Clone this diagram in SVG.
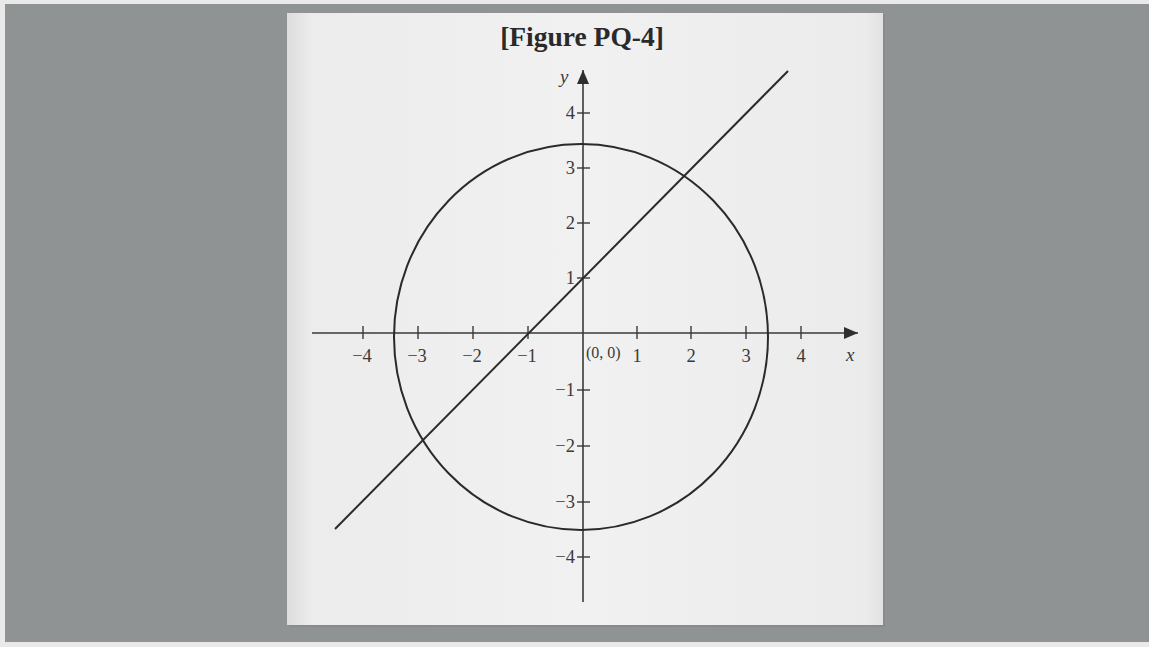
<svg xmlns="http://www.w3.org/2000/svg" width="1149" height="647" viewBox="0 0 1149 647">
  <defs>
    <linearGradient id="paperGrad" x1="0" y1="0" x2="1" y2="0">
      <stop offset="0" stop-color="#dcdcdc"/>
      <stop offset="0.04" stop-color="#ececec"/>
      <stop offset="0.5" stop-color="#f1f1f1"/>
      <stop offset="0.97" stop-color="#ebebeb"/>
      <stop offset="1" stop-color="#e2e2e2"/>
    </linearGradient>
    <marker id="arrowBig" viewBox="0 0 14 12" refX="14" refY="6" markerWidth="14" markerHeight="12" markerUnits="userSpaceOnUse" orient="auto">
      <path d="M0,0 L14,6 L0,12 Z" fill="#2e2e2e"/>
    </marker>
  </defs>
  <style>
    .ax { stroke: #3a3a3a; stroke-width: 1.6; fill: none; }
    .tick { stroke: #3a3a3a; stroke-width: 1.4; }
    .curve { stroke: #2a2a2a; stroke-width: 2; fill: none; }
    .lbl { font-family: "Liberation Serif", "Times New Roman", serif; font-size: 18.5px; fill: #3a3a3a; }
    .small { font-family: "Liberation Serif", "Times New Roman", serif; font-size: 16px; fill: #3a3a3a; }
    .var { font-family: "Liberation Serif", "Times New Roman", serif; font-size: 19px; font-style: italic; fill: #3a3a3a; }
    .title { font-family: "Liberation Serif", "Times New Roman", serif; font-size: 27.5px; font-weight: bold; fill: #2a2a2a; }
  </style>

  <!-- background -->
  <rect x="0" y="0" width="1149" height="647" fill="#e9e9e9"/>
  <rect x="5" y="4" width="1144" height="638" fill="#909394"/>

  <!-- paper -->
  <g id="paper">
    <rect x="289" y="15" width="596" height="612" fill="#7f8283" opacity="0.5"/>
    <rect x="287" y="13" width="596" height="612" fill="url(#paperGrad)"/>
  </g>

  <g id="title">
    <text class="title" x="582" y="46" text-anchor="middle">[Figure PQ-4]</text>
  </g>

  <!-- axes -->
  <g id="axes">
    <line class="ax" x1="312" y1="333" x2="858" y2="333" marker-end="url(#arrowBig)"/>
    <line class="ax" x1="583" y1="602" x2="583" y2="70" marker-end="url(#arrowBig)"/>
    <text class="var" x="846" y="361">x</text>
    <text class="var" x="560" y="83">y</text>
  </g>

  <g id="x-ticks">
    <line class="tick" x1="363" y1="326" x2="363" y2="339"/>
    <line class="tick" x1="418" y1="326" x2="418" y2="339"/>
    <line class="tick" x1="473" y1="326" x2="473" y2="339"/>
    <line class="tick" x1="528" y1="326" x2="528" y2="339"/>
    <line class="tick" x1="637" y1="326" x2="637" y2="339"/>
    <line class="tick" x1="691" y1="326" x2="691" y2="339"/>
    <line class="tick" x1="746" y1="326" x2="746" y2="339"/>
    <line class="tick" x1="801" y1="326" x2="801" y2="339"/>
    <text class="lbl" x="362" y="362" text-anchor="middle">−4</text>
    <text class="lbl" x="417" y="362" text-anchor="middle">−3</text>
    <text class="lbl" x="472" y="362" text-anchor="middle">−2</text>
    <text class="lbl" x="527" y="362" text-anchor="middle">−1</text>
    <text class="lbl" x="637" y="362" text-anchor="middle">1</text>
    <text class="lbl" x="691" y="362" text-anchor="middle">2</text>
    <text class="lbl" x="746" y="362" text-anchor="middle">3</text>
    <text class="lbl" x="801" y="362" text-anchor="middle">4</text>
    <text class="small" x="586" y="358">(0, 0)</text>
  </g>

  <g id="y-ticks">
    <line class="tick" x1="577" y1="113" x2="590" y2="113"/>
    <line class="tick" x1="577" y1="168" x2="590" y2="168"/>
    <line class="tick" x1="577" y1="223" x2="590" y2="223"/>
    <line class="tick" x1="577" y1="278" x2="590" y2="278"/>
    <line class="tick" x1="577" y1="390" x2="590" y2="390"/>
    <line class="tick" x1="577" y1="446" x2="590" y2="446"/>
    <line class="tick" x1="577" y1="502" x2="590" y2="502"/>
    <line class="tick" x1="577" y1="557" x2="590" y2="557"/>
    <text class="lbl" x="575" y="119" text-anchor="end">4</text>
    <text class="lbl" x="575" y="174" text-anchor="end">3</text>
    <text class="lbl" x="575" y="229" text-anchor="end">2</text>
    <text class="lbl" x="575" y="284" text-anchor="end">1</text>
    <text class="lbl" x="575" y="396" text-anchor="end">−1</text>
    <text class="lbl" x="575" y="452" text-anchor="end">−2</text>
    <text class="lbl" x="575" y="508" text-anchor="end">−3</text>
    <text class="lbl" x="575" y="563" text-anchor="end">−4</text>
  </g>

  <g id="circle">
    <ellipse class="curve" cx="581" cy="337" rx="187" ry="193"/>
  </g>

  <g id="line">
    <line class="curve" x1="335" y1="529" x2="788" y2="71"/>
  </g>
</svg>
